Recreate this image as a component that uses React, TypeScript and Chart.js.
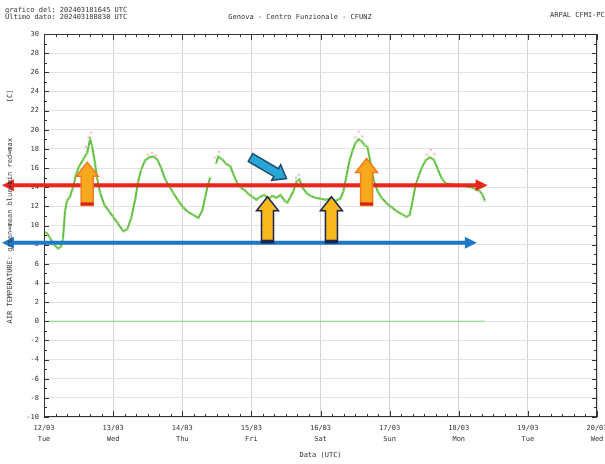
import React, { useEffect, useRef } from "react";
import { Chart, registerables } from "chart.js";

Chart.register(...registerables);

// ---- data (hours since 12/03 00:00 UTC, temperature °C) ----
const meanHours = [0, 1, 2.1, 3.5, 4.9, 5.9, 6.6, 7.3, 8, 9, 10.1, 11.1, 12.2, 13.6, 15, 16, 16.7, 17.7, 18.4, 19.5, 20.9, 22.3, 24, 25.7, 27.5, 28.9, 30.3, 31.7, 32.7, 33.7, 35.1, 36.5, 37.9, 39.3, 40.7, 42.1, 43.5, 44.9, 46.6, 48.3, 50.1, 51.8, 53.6, 55, 56, 57, 57.7, 58.7, 59.8, 60.5, 61.9, 63.3, 64.7, 65.7, 66.8, 68.2, 69.6, 71, 72.3, 73.7, 75.1, 76.5, 77.9, 79.3, 80.7, 82.1, 83.5, 84.5, 85.6, 86.6, 87.7, 88.7, 89.7, 91.1, 92.5, 94.3, 96, 97.7, 99.5, 101.2, 102.9, 104, 105, 106.1, 107.1, 108.1, 109.2, 110.3, 111.3, 112.3, 113.4, 114.4, 115.8, 117.2, 119, 120.7, 122.4, 124.2, 125.9, 127, 128, 129, 130.1, 131.1, 132.5, 133.9, 135.3, 136.7, 138.1, 139.5, 141.2, 143, 144.7, 146.4, 148.2, 149.9, 151.3, 152.3, 153];
const meanTemps = [9.3, 9.2, 8.7, 8.0, 7.6, 7.8, 8.6, 11.5, 12.6, 13.0, 14.0, 15.3, 16.2, 16.9, 17.6, 19.0, 18.3, 16.5, 15.0, 13.4, 12.2, 11.6, 10.9, 10.2, 9.4, 9.6, 10.8, 12.8, 14.6, 15.8, 16.8, 17.1, 17.2, 16.9, 16.0, 14.8, 14.1, 13.4, 12.6, 11.9, 11.4, 11.1, 10.8, 11.6, 13.0, 14.3, 15.0, null, 16.5, 17.2, 16.9, 16.4, 16.2, 15.4, 14.6, 14.0, 13.7, 13.3, 13.0, 12.7, 13.0, 13.2, 12.8, 13.1, 12.9, 13.2, 12.6, 12.4, 13.0, 13.6, 14.6, 14.8, 14.0, 13.4, 13.1, 12.9, 12.8, 12.7, 12.8, 12.6, 12.8, 13.6, 15.2, 16.8, 17.8, 18.6, 19.0, 18.8, 18.4, 18.2, 16.5, 14.8, 13.6, 12.9, 12.3, 11.9, 11.5, 11.2, 10.9, 11.1, 12.6, 14.2, 15.2, 16.0, 16.8, 17.1, 16.9, 15.9, 14.9, 14.4, 14.3, 14.2, 14.2, 14.1, 14.0, 13.8, 13.6, 13.2, 12.6];
const maxHours = [14.5, 15.5, 16.3, 36, 37.5, 38.8, 59.5, 60.8, 87.5, 88.5, 108, 109.3, 110.5, 133, 134.3, 135.5];
const maxTemps = [18.2, 19.2, 19.7, 17.4, 17.6, 17.3, 17.1, 17.7, 15.0, 15.3, 19.2, 19.8, 19.3, 17.4, 17.9, 17.5];
const zeroHours = [0, 153];
const zeroTemps = [0, 0];

const dayLabels = ["12/03", "13/03", "14/03", "15/03", "16/03", "17/03", "18/03", "19/03", "20/03"];
const weekdayLabels = ["Tue", "Wed", "Thu", "Fri", "Sat", "Sun", "Mon", "Tue", "Wed"];

// annotation arrows in data coordinates (hours, °C)
const hArrows = [
  { from: -14.6, to: 154, value: 14.2, color: "#e8261c" },
  { from: -14.6, to: 150.3, value: 8.2, color: "#1f77c8" },
];
const upArrows = [
  { hour: 15.0, bottom: 12.1, top: 16.6, fill: "#f8a81c", stroke: "#f07a20", cap: "#d8201a" },
  { hour: 112.0, bottom: 12.1, top: 17.0, fill: "#f8a81c", stroke: "#f07a20", cap: "#d8201a" },
  { hour: 77.6, bottom: 8.2, top: 13.0, fill: "#f8b81c", stroke: "#1a2550", cap: "#1a2550" },
  { hour: 99.8, bottom: 8.2, top: 13.0, fill: "#f8b81c", stroke: "#1a2550", cap: "#1a2550" },
];
const diagArrows = [{ h1: 71.7, v1: 17.1, h2: 84.2, v2: 14.9, fill: "#2aa6d6", stroke: "#184a6a" }];

const FONT = "DejaVu Sans Mono";

function drawBlockArrow(ctx: CanvasRenderingContext2D, x1: number, y1: number, x2: number, y2: number, bodyW: number, headW: number, headL: number, fill: string, stroke: string, cap?: string) {
  const dx = x2 - x1, dy = y2 - y1;
  const len = Math.hypot(dx, dy);
  const ang = Math.atan2(dy, dx);
  ctx.save();
  ctx.translate(x1, y1);
  ctx.rotate(ang);
  const bl = len - headL;
  ctx.beginPath();
  ctx.moveTo(0, -bodyW / 2);
  ctx.lineTo(bl, -bodyW / 2);
  ctx.lineTo(bl, -headW / 2);
  ctx.lineTo(len, 0);
  ctx.lineTo(bl, headW / 2);
  ctx.lineTo(bl, bodyW / 2);
  ctx.lineTo(0, bodyW / 2);
  ctx.closePath();
  ctx.fillStyle = fill;
  ctx.fill();
  ctx.lineWidth = 1.5;
  ctx.strokeStyle = stroke;
  ctx.stroke();
  if (cap) {
    ctx.fillStyle = cap;
    ctx.fillRect(0, -bodyW / 2 - 0.5, 3, bodyW + 1);
  }
  ctx.restore();
}

function drawLineArrow(ctx: CanvasRenderingContext2D, x1: number, x2: number, y: number, color: string) {
  ctx.save();
  ctx.strokeStyle = color;
  ctx.fillStyle = color;
  ctx.lineWidth = 4;
  ctx.beginPath();
  ctx.moveTo(x1 + 8, y);
  ctx.lineTo(x2 - 8, y);
  ctx.stroke();
  const head = (tipX: number, dir: number) => {
    ctx.beginPath();
    ctx.moveTo(tipX, y);
    ctx.lineTo(tipX - dir * 12, y - 6);
    ctx.lineTo(tipX - dir * 12, y + 6);
    ctx.closePath();
    ctx.fill();
  };
  head(x1, -1);
  head(x2, 1);
  ctx.restore();
}

const framePlugin = {
  id: "frameAndNotes",
  afterDatasetsDraw(chart: any) {
    const { ctx, chartArea: a, scales } = chart;
    const xs = scales.x, ys = scales.y;
    ctx.save();
    ctx.strokeStyle = "#333";
    ctx.lineWidth = 1;
    ctx.strokeRect(a.left + 0.5, a.top + 0.5, a.right - a.left - 1, a.bottom - a.top - 1);
    ctx.beginPath();
    for (let h = 0; h <= 192; h += 4) {
      const x = Math.round(xs.getPixelForValue(h)) + 0.5;
      const L = h % 24 === 0 ? 6 : 3;
      ctx.moveTo(x, a.top); ctx.lineTo(x, a.top + L);
      ctx.moveTo(x, a.bottom); ctx.lineTo(x, a.bottom - L);
    }
    for (let v = -10; v <= 30; v += 1) {
      const y = Math.round(ys.getPixelForValue(v)) + 0.5;
      const L = v % 2 === 0 ? 5 : 3;
      ctx.moveTo(a.left, y); ctx.lineTo(a.left + L, y);
      ctx.moveTo(a.right, y); ctx.lineTo(a.right - L, y);
    }
    ctx.stroke();

    hArrows.forEach((h) => {
      drawLineArrow(ctx, xs.getPixelForValue(h.from), xs.getPixelForValue(h.to), ys.getPixelForValue(h.value), h.color);
    });
    upArrows.forEach((u) => {
      const x = xs.getPixelForValue(u.hour);
      drawBlockArrow(ctx, x, ys.getPixelForValue(u.bottom), x, ys.getPixelForValue(u.top), 12, 22, 14, u.fill, u.stroke, u.cap);
    });
    diagArrows.forEach((d) => {
      drawBlockArrow(ctx, xs.getPixelForValue(d.h1), ys.getPixelForValue(d.v1), xs.getPixelForValue(d.h2), ys.getPixelForValue(d.v2), 9, 18, 12, d.fill, d.stroke);
    });

    ctx.fillStyle = "#333";
    ctx.font = `7px "${FONT}"`;
    ctx.textBaseline = "middle";
    // x tick labels
    ctx.textAlign = "center";
    dayLabels.forEach((d, i) => {
      const x = xs.getPixelForValue(i * 24);
      ctx.fillText(d, x, a.bottom + 11);
      ctx.fillText(weekdayLabels[i], x, a.bottom + 22);
    });
    ctx.fillText("Data (UTC)", (a.left + a.right) / 2, a.bottom + 38);
    ctx.textAlign = "left";
    ctx.fillText("grafico del: 202403181645 UTC", 5, 10);
    ctx.fillText("Ultimo dato: 202403180830 UTC", 5, 17);
    ctx.textAlign = "center";
    ctx.fillText("Genova - Centro Funzionale - CFUNZ", 300, 17);
    ctx.textAlign = "left";
    ctx.fillText("ARPAL CFMI-PC", 550, 15);
    ctx.save();
    ctx.translate(10, 0);
    ctx.rotate(-Math.PI / 2);
    ctx.textAlign = "right";
    ctx.fillText("AIR TEMPERATURE: green=mean blue=min red=max", -138, 0);
    ctx.textAlign = "center";
    ctx.fillText("[C]", -96, 0);
    ctx.restore();
    ctx.restore();
  },
};

export default function App() {
  const ref = useRef<HTMLCanvasElement | null>(null);
  useEffect(() => {
    document.body.style.margin = "0";
    const canvas = ref.current!;
    const chart = new Chart(canvas, {
      type: "line",
      data: {
        datasets: [
          {
            label: "zero",
            data: zeroHours.map((h, i) => ({ x: h, y: zeroTemps[i] })),
            borderColor: "#7ed87a",
            borderWidth: 1.2,
            pointRadius: 0,
          },
          {
            label: "max",
            data: maxHours.map((h, i) => ({ x: h, y: maxTemps[i] })),
            borderColor: "rgba(240,140,140,0.7)",
            backgroundColor: "rgba(240,140,140,0.7)",
            showLine: false,
            pointStyle: "crossRot",
            pointRadius: 1.5,
            borderWidth: 1,
          },
          {
            label: "mean",
            data: meanHours.map((h, i) => ({ x: h, y: meanTemps[i] })),
            borderColor: "#62c040",
            backgroundColor: "#62c040",
            borderWidth: 2,
            pointStyle: "crossRot",
            pointRadius: 1.8,
            pointBorderWidth: 0.8,
            pointBorderColor: "#8fd870",
            spanGaps: false,
          },
        ],
      },
      options: {
        animation: false,
        responsive: false,
        maintainAspectRatio: false,
        layout: { padding: { top: 34, right: 8, left: 0, bottom: 0 } },
        plugins: { legend: { display: false }, tooltip: { enabled: false }, title: { display: false } },
        scales: {
          x: {
            type: "linear",
            min: 0,
            max: 192,
            afterBuildTicks: (s: any) => {
              s.ticks = dayLabels.map((_, i) => ({ value: i * 24 }));
            },
            afterFit: (s: any) => { s.height = 47; },
            ticks: { display: false },
            grid: { color: "#d4d4d4", lineWidth: 1, drawTicks: false },
            border: { display: false },
          },
          y: {
            min: -10,
            max: 30,
            afterBuildTicks: (s: any) => {
              const t = [];
              for (let v = -10; v <= 30; v += 2) t.push({ value: v });
              s.ticks = t;
            },
            afterFit: (s: any) => { s.width = 44; },
            ticks: { color: "#333", padding: 5, font: { family: FONT, size: 7 } },
            grid: { color: "#e4e4e4", lineWidth: 1, drawTicks: false },
            border: { display: false },
          },
        },
      },
      plugins: [framePlugin],
    } as any);
    return () => chart.destroy();
  }, []);
  return (
    <div style={{ width: 605, height: 464, background: "#fff" }}>
      <canvas ref={ref} width={605} height={464} style={{ display: "block" }} />
    </div>
  );
}
